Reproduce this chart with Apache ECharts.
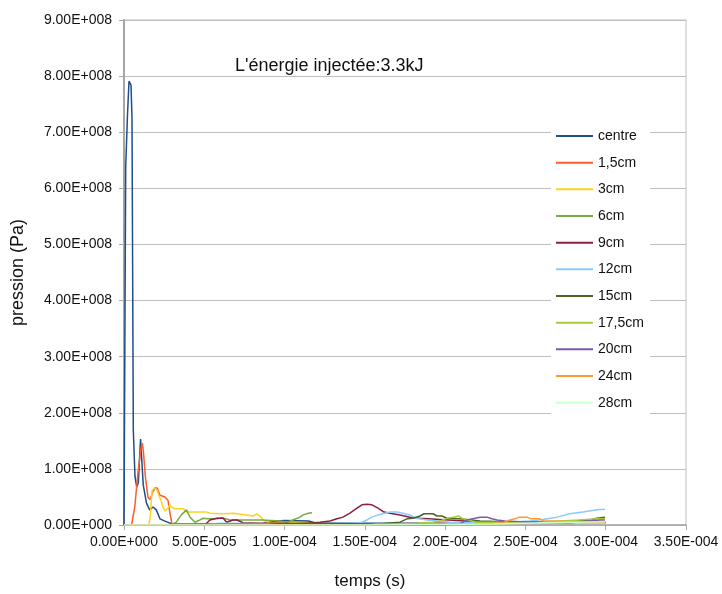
<!DOCTYPE html>
<html>
<head>
<meta charset="utf-8">
<script src="https://cdn.jsdelivr.net/npm/echarts@6/dist/echarts.min.js"></script>
<style>html,body{margin:0;padding:0;background:#fff}#c{width:722px;height:594px}</style>
</head>
<body>
<div id="c"></div>
<script>
// time in microseconds, pressure in units of 1e8 Pa
const seriesNames = ['centre','1,5cm','3cm','6cm','9cm','12cm','15cm','17,5cm','20cm','24cm','28cm'];
const xTickLabels = ['0.00E+000','5.00E-005','1.00E-004','1.50E-004','2.00E-004','2.50E-004','3.00E-004','3.50E-004'];
const yTickLabels = ['0.00E+000','1.00E+008','2.00E+008','3.00E+008','4.00E+008','5.00E+008','6.00E+008','7.00E+008','8.00E+008','9.00E+008'];

const centreT = [0,1.06,2.18,3.11,4.36,4.98,5.8,6.85,7.9,8.9,10.3,10.8,12.0,14.0,16.0,18.1,20.1,22.4,25.5,29.9,40,60,85,95,100,115,120,150,200,250,300];
const centreP = [0,6.38,7.31,7.91,7.84,7.25,1.69,0.86,0.68,0.75,1.53,1.52,0.71,0.39,0.27,0.32,0.27,0.11,0.07,0.02,0.01,0.02,0.02,0.07,0.08,0.07,0.03,0.03,0.03,0.05,0.05];

const cm1_5T = [0,4.7,6.7,8.7,10.4,11.4,12.1,13.3,14.9,16.2,18.1,19.3,20.7,22.4,25.5,27.4,28.6,29.9,40,60,80,100,150,200,250,300];
const cm1_5P = [0,0,0.32,0.93,1.34,1.46,1.3,0.86,0.5,0.45,0.6,0.66,0.66,0.53,0.5,0.44,0.21,0.02,0.02,0.02,0.02,0.02,0.02,0.03,0.03,0.04];

const cm3T = [0,15.4,16.4,17.0,17.6,19.1,20.7,21.6,22.9,24.3,25.7,27.4,28.5,29.5,31.6,34.9,36.9,39.0,47.3,48.4,51.5,53.5,61.8,62.9,68.1,69.1,80.5,82.6,84.7,86.7,89.7,116,128,200,250,300];
const cm3P = [0,0,0.14,0.45,0.62,0.66,0.62,0.53,0.45,0.32,0.25,0.3,0.36,0.32,0.29,0.29,0.29,0.23,0.23,0.25,0.23,0.21,0.2,0.21,0.21,0.18,0.16,0.2,0.16,0.09,0.04,0.04,0.02,0.02,0.03,0.03];

const cm6T = [0,29.5,32.6,35.7,38.9,41.1,44.2,47.3,49.4,51.7,57.9,61,66,72.2,85.9,97.1,101.5,105.2,109.6,111.6,114.8,117.1];
const cm6P = [0,0,0.05,0.18,0.27,0.14,0.05,0.09,0.12,0.11,0.11,0.13,0.09,0.09,0.09,0.07,0.05,0.09,0.14,0.18,0.21,0.22];

const cm9T = [0,50.4,53.5,57.7,61.8,63.9,67.9,70.4,74.1,84.7,97.1,109.6,122.0,128.3,132.6,136.4,140.7,145.1,148.2,151.3,154.4,158.2,161.9,165.6,171.9,178.1,184.3,196.8,220,250,300];
const cm9P = [0,0,0.09,0.12,0.12,0.05,0.09,0.09,0.04,0.03,0.03,0.02,0.05,0.07,0.11,0.14,0.21,0.3,0.36,0.37,0.36,0.3,0.23,0.21,0.18,0.14,0.12,0.1,0.06,0.05,0.05];

const cm12T = [0,47.3,59.8,109.6,143.8,148.2,151.3,154.4,158.2,162.5,165.6,170,173.7,178.1,181.8,188.7,203,234,252.8,260.9,269.6,277.7,285.8,294.5,299.5];
const cm12P = [0,0,0.03,0.02,0.03,0.05,0.09,0.14,0.18,0.21,0.23,0.23,0.21,0.18,0.12,0.09,0.05,0.04,0.07,0.1,0.14,0.2,0.23,0.27,0.28];

const cm15T = [0,91,109.6,159.4,167.5,171.9,176.2,179.9,184.3,186.8,192.4,194.9,198,201.1,209.2,221.7,246.6,268.4,277.7,290.2,294.5,299.5];
const cm15P = [0,0.02,0.03,0.02,0.04,0.05,0.11,0.12,0.16,0.2,0.2,0.16,0.16,0.12,0.11,0.07,0.05,0.05,0.07,0.09,0.12,0.14];

const cm17_5T = [0,159.4,179.9,184.3,192.4,196.8,201.1,204.9,208.6,210.5,213.6,219.8,234.1,254.7,271.5,283.9,294.5,299.5];
const cm17_5P = [0,0,0,0.04,0.05,0.07,0.12,0.14,0.16,0.12,0.09,0.05,0.05,0.04,0.07,0.09,0.11,0.11];

const cm20T = [0,196.8,209.2,213.6,218.6,221.7,226,229.1,232.3,237.2,252.8,277.7,296.4,299.5];
const cm20P = [0,0,0.02,0.09,0.12,0.14,0.14,0.11,0.09,0.07,0.05,0.04,0.09,0.09];

const cm24T = [0,153.2,156.9,178.1,209.2,227.9,236,240.3,243.5,246,251,253.4,259,261.5,269.6,283.9,299.5];
const cm24P = [0,0,0.02,0.02,0.02,0.02,0.04,0.09,0.11,0.14,0.14,0.11,0.11,0.07,0.07,0.05,0.05];

const cm28T = [0,150,200,230,260,280,300];
const cm28P = [0,0,0.01,0.02,0.04,0.05,0.06];

const colors = ['#1F4E89','#FF5B2B','#FFD21F','#78AA40','#8E1E3E','#88CCFF','#4F6228','#AACC33','#7B5BA8','#FF9933','#CCFFCC'];

const tArrays = [centreT,cm1_5T,cm3T,cm6T,cm9T,cm12T,cm15T,cm17_5T,cm20T,cm24T,cm28T];
const pArrays = [centreP,cm1_5P,cm3P,cm6P,cm9P,cm12P,cm15P,cm17_5P,cm20P,cm24P,cm28P];

const FONT = 'Liberation Sans';
const series = seriesNames.map((n, i) => ({
  name: n,
  type: 'line',
  showSymbol: false,
  symbol: 'none',
  smooth: false,
  lineStyle: { width: 1.5, color: colors[i] },
  itemStyle: { color: colors[i] },
  data: tArrays[i].map((t, k) => [t, pArrays[i][k]])
}));

const chart = echarts.init(document.getElementById('c'), null, { renderer: 'canvas' });
chart.setOption({
  animation: false,
  backgroundColor: '#fff',
  color: colors,
  title: {
    text: "L'énergie injectée:3.3kJ",
    left: 230, top: 52,
    textStyle: { fontFamily: FONT, fontSize: 18, fontWeight: 'normal', color: '#111' }
  },
  grid: { left: 124, right: 36, top: 20, bottom: 69, show: true, borderColor: '#BFBFBF', borderWidth: 1,
          containLabel: false, outerBoundsMode: 'none' },
  legend: {
    orient: 'vertical',
    left: 551, top: 124,
    backgroundColor: '#fff',
    padding: [4, 6, 4, 5],
    itemWidth: 37, itemHeight: 2, itemGap: 10.67,
    icon: 'rect',
    data: seriesNames,
    textStyle: { fontFamily: FONT, fontSize: 14, color: '#111', lineHeight: 16 }
  },
  xAxis: {
    type: 'value', min: 0, max: 350, interval: 50,
    name: 'temps (s)', nameLocation: 'middle', nameGap: 48,
    nameTextStyle: { fontFamily: FONT, fontSize: 17, color: '#111', padding: [0, 70, 0, 0] },
    axisLine: { show: true, lineStyle: { color: '#A6A6A6', width: 1.5 } },
    axisTick: { show: true, length: 5, lineStyle: { color: '#A6A6A6' } },
    splitLine: { show: false },
    axisLabel: { fontFamily: FONT, fontSize: 14, color: '#111', margin: 10,
      formatter: v => xTickLabels[Math.round(v / 50)] }
  },
  yAxis: {
    type: 'value', min: 0, max: 9, interval: 1,
    name: 'pression (Pa)', nameLocation: 'middle', nameGap: 97, nameRotate: 90,
    nameTextStyle: { fontFamily: FONT, fontSize: 18, color: '#111' },
    axisLine: { show: true, lineStyle: { color: '#A6A6A6', width: 2 } },
    axisTick: { show: true, length: 5, lineStyle: { color: '#A6A6A6' } },
    splitLine: { show: true, lineStyle: { color: '#BFBFBF', width: 1 } },
    axisLabel: { fontFamily: FONT, fontSize: 14, color: '#111', margin: 12,
      formatter: v => yTickLabels[Math.round(v)] }
  },
  series: series
});
</script>
</body>
</html>
